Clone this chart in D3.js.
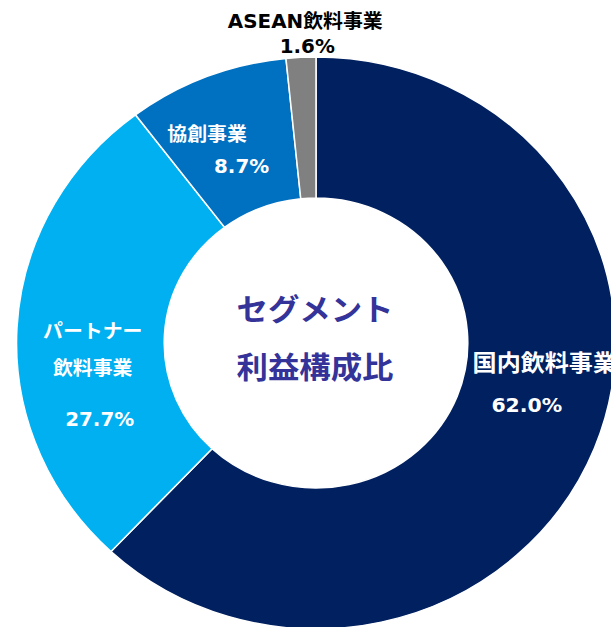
<!DOCTYPE html>
<html>
<head>
<meta charset="utf-8">
<script src="https://cdn.jsdelivr.net/npm/d3@7"></script>
<style>
  body { margin: 0; background: #fff; }
  text { font-family: "DejaVu Sans", "Noto Sans CJK JP", sans-serif; font-weight: bold; }
</style>
</head>
<body>
<div id="chart"></div>
<script>
// segment data
var categories = ["国内飲料事業", "パートナー飲料事業", "協創事業", "ASEAN飲料事業"];
var values = [62.0, 27.7, 8.7, 1.6];
var colors = ["#002060", "#00B0F0", "#0070C0", "#808080"];
// label lines (the name may wrap), percent is added from values
var labelNames = [["国内飲料事業"], ["パートナー", "飲料事業"], ["協創事業"], ["ASEAN飲料事業"]];
var centerTitle = ["セグメント", "利益構成比"];

var width = 611, height = 627;
var cx = 316, cy = 343;
var sx = 1.047;            // picture is a bit wider than tall
var inner = 145, outer = 286;

var svg = d3.select("#chart")
  .append("svg")
    .attr("width", width)
    .attr("height", height);

var pie = d3.pie().sort(null).value(function(d) { return d; });
var arc = d3.arc().innerRadius(inner).outerRadius(outer);
var arcs = pie(values);

var g = svg.append("g")
    .attr("transform", "translate(" + cx + "," + cy + ") scale(" + sx + ",1)");

g.selectAll("path")
  .data(arcs)
  .enter().append("path")
    .attr("d", arc)
    .attr("fill", function(d, i) { return colors[i]; })
    .attr("stroke", "#fff")
    .attr("stroke-width", 1.5)
    .attr("vector-effect", "non-scaling-stroke");

// label placement relative to the slice centroid (dx, dy, font size)
var layout = [
  { name: [[19, -51, 23]], pct: [1, -10, 19.5], fill: "#fff" },
  { name: [[2, 7, 19], [2, 44, 19]], pct: [9, 94.5, 19], fill: "#fff" },
  { name: [[-26.5, -1.5, 19]], pct: [8, 30.5, 19], fill: "#fff" },
  { name: [[0.6, -99.5, 19]], pct: [2.6, -74.5, 19], fill: "#000" }
];

var fmt = d3.format(".1f");

function addText(x, y, size, fill, str) {
  svg.append("text")
    .attr("transform", "translate(" + x + "," + y + ") scale(" + sx + ",1)")
    .attr("text-anchor", "middle")
    .attr("font-size", size)
    .attr("fill", fill)
    .text(str);
}

arcs.forEach(function(a, i) {
  var c = arc.centroid(a);
  var px = cx + c[0] * sx, py = cy + c[1];
  var L = layout[i];
  labelNames[i].forEach(function(line, j) {
    var p = L.name[j];
    addText(px + p[0], py + p[1], p[2], L.fill, line);
  });
  addText(px + L.pct[0], py + L.pct[1], L.pct[2], L.fill, fmt(values[i]) + "%");
});

// center title
centerTitle.forEach(function(t, i) {
  addText(cx - 1, cy - 23 + i * 58, 30, "#333399", t);
});
</script>
</body>
</html>
